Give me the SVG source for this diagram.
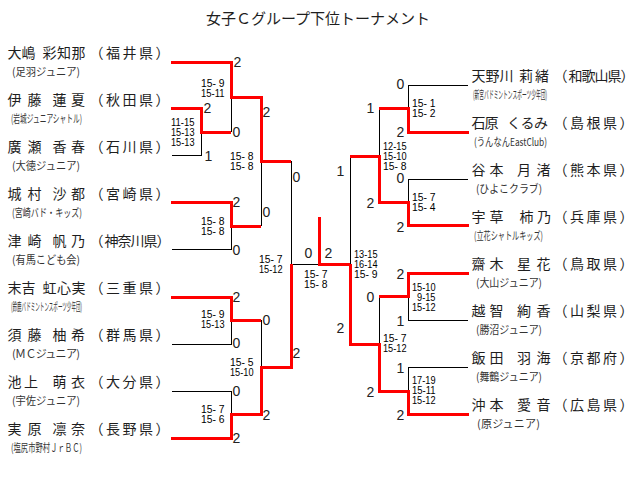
<svg xmlns="http://www.w3.org/2000/svg" width="640" height="489" viewBox="0 0 640 489">
<style>
.nm{font-family:"Noto Sans CJK JP","Noto Sans CJK SC",sans-serif;font-size:14px;fill:#1e1e1e}
.cl{font-family:"Noto Sans CJK JP","Noto Sans CJK SC",sans-serif;font-size:11px;fill:#333}
.tt{font-family:"Noto Sans CJK JP","Noto Sans CJK SC",sans-serif;font-size:15px;fill:#1e1e1e}
.sc{font-family:"Liberation Sans",Arial,sans-serif;font-size:14px;fill:#222}
.gs{font-family:"Liberation Sans",Arial,sans-serif;font-size:10px;fill:#000}
.l{stroke:#000;stroke-width:1;fill:none;shape-rendering:crispEdges}
.w{stroke:#ff0000;stroke-width:3;fill:none;shape-rendering:crispEdges}
</style>
<rect width="640" height="489" fill="#fff"/>
<text class="tt" x="206" y="24">女子Ｃグループ下位トーナメント</text>

<g id="left-players">
<g id="p-oshima"><text class="nm" x="7.5 21.5" y="58">大嶋</text><text class="nm" x="42.5 57 71.5" y="58">彩知那</text><text class="nm" x="89.5 106 122.5 139 155.5" y="58">（福井県）</text><text class="cl" x="12" y="76" textLength="68" lengthAdjust="spacingAndGlyphs">(足羽ジュニア)</text></g>
<g id="p-ito"><text class="nm" x="7.5 27.5" y="105">伊藤</text><text class="nm" x="52.5 71" y="105">蓮夏</text><text class="nm" x="89.5 106 122.5 139 155.5" y="105">（秋田県）</text><text class="cl" x="11" y="123" textLength="71" lengthAdjust="spacingAndGlyphs">(岩城ジュニアシャトル)</text></g>
<g id="p-hirose"><text class="nm" x="7.5 27.5" y="152">廣瀬</text><text class="nm" x="52.5 71" y="152">香春</text><text class="nm" x="89.5 106 122.5 139 155.5" y="152">（石川県）</text><text class="cl" x="12" y="170" textLength="68" lengthAdjust="spacingAndGlyphs">(大徳ジュニア)</text></g>
<g id="p-shiromura"><text class="nm" x="7.5 27.5" y="199">城村</text><text class="nm" x="52.5 71" y="199">沙都</text><text class="nm" x="89.5 106 122.5 139 155.5" y="199">（宮崎県）</text><text class="cl" x="12" y="217" textLength="70" lengthAdjust="spacingAndGlyphs">(宮崎バド・キッズ)</text></g>
<g id="p-tsuzaki"><text class="nm" x="7.5 27.5" y="246">津崎</text><text class="nm" x="52.5 71" y="246">帆乃</text><text class="nm" x="89.5 104.5 117.5 130.5 143.5 156.5" y="246">（神奈川県）</text><text class="cl" x="12" y="264" textLength="68" lengthAdjust="spacingAndGlyphs">(有馬こども会)</text></g>
<g id="p-sueyoshi"><text class="nm" x="7.5 21.5" y="293">末吉</text><text class="nm" x="42.5 57 71.5" y="293">虹心実</text><text class="nm" x="89.5 106 122.5 139 155.5" y="293">（三重県）</text><text class="cl" x="11" y="311" textLength="71" lengthAdjust="spacingAndGlyphs">(鈴鹿バドミントンスポーツ少年団)</text></g>
<g id="p-sudo"><text class="nm" x="7.5 27.5" y="340">須藤</text><text class="nm" x="52.5 71" y="340">柚希</text><text class="nm" x="89.5 106 122.5 139 155.5" y="340">（群馬県）</text><text class="cl" x="12" y="358" textLength="68" lengthAdjust="spacing">(ＭＣジュニア)</text></g>
<g id="p-ikegami"><text class="nm" x="7.5 24" y="387">池上</text><text class="nm" x="52.5 71" y="387">萌衣</text><text class="nm" x="89.5 106 122.5 139 155.5" y="387">（大分県）</text><text class="cl" x="12" y="405" textLength="68" lengthAdjust="spacingAndGlyphs">(宇佐ジュニア)</text></g>
<g id="p-sanehara"><text class="nm" x="7.5 27.5" y="434">実原</text><text class="nm" x="52.5 71" y="434">凛奈</text><text class="nm" x="89.5 106 122.5 139 155.5" y="434">（長野県）</text><text class="cl" x="11" y="452" textLength="71" lengthAdjust="spacingAndGlyphs">(塩尻市野村ＪｒＢＣ)</text></g>
</g>

<g id="right-players">
<g id="p-amanogawa"><text class="nm" x="471.5 485.5 499.5" y="81">天野川</text><text class="nm" x="519 535" y="81">莉緒</text><text class="nm" x="553.5 568.5 581.5 594.5 607.5 620.5" y="81">（和歌山県）</text><text class="cl" x="473" y="99" textLength="74" lengthAdjust="spacingAndGlyphs">(新宮バドミントンスポーツ少年団)</text></g>
<g id="p-ishihara"><text class="nm" x="471.5 484.5" y="128">石原</text><text class="nm" x="507 520.5 534" y="128">くるみ</text><text class="nm" x="553.5 570 586.5 603 619.5" y="128">（島根県）</text><text class="cl" x="474" y="146" textLength="73" lengthAdjust="spacingAndGlyphs">(うんなんEastClub)</text></g>
<g id="p-tanimoto"><text class="nm" x="471.5 489.5" y="175">谷本</text><text class="nm" x="517 536.5" y="175">月渚</text><text class="nm" x="553.5 570 586.5 603 619.5" y="175">（熊本県）</text><text class="cl" x="476" y="193" textLength="66" lengthAdjust="spacingAndGlyphs">(ひよこクラブ)</text></g>
<g id="p-ukusa"><text class="nm" x="471.5 489.5" y="222">宇草</text><text class="nm" x="519.5 537" y="222">柿乃</text><text class="nm" x="553.5 570 586.5 603 619.5" y="222">（兵庫県）</text><text class="cl" x="474" y="240" textLength="69" lengthAdjust="spacingAndGlyphs">(立花シャトルキッズ)</text></g>
<g id="p-saiki"><text class="nm" x="471.5 489.5" y="269">齋木</text><text class="nm" x="517 536.5" y="269">星花</text><text class="nm" x="553.5 570 586.5 603 619.5" y="269">（鳥取県）</text><text class="cl" x="476" y="287" textLength="66" lengthAdjust="spacingAndGlyphs">(大山ジュニア)</text></g>
<g id="p-ochi"><text class="nm" x="471.5 489.5" y="316">越智</text><text class="nm" x="517 536.5" y="316">絢香</text><text class="nm" x="553.5 570 586.5 603 619.5" y="316">（山梨県）</text><text class="cl" x="476" y="334" textLength="66" lengthAdjust="spacingAndGlyphs">(勝沼ジュニア)</text></g>
<g id="p-iida"><text class="nm" x="471.5 489.5" y="363">飯田</text><text class="nm" x="517 536.5" y="363">羽海</text><text class="nm" x="553.5 570 586.5 603 619.5" y="363">（京都府）</text><text class="cl" x="476" y="381" textLength="66" lengthAdjust="spacingAndGlyphs">(舞鶴ジュニア)</text></g>
<g id="p-okimoto"><text class="nm" x="471.5 489.5" y="410">沖本</text><text class="nm" x="517 536.5" y="410">愛音</text><text class="nm" x="553.5 570 586.5 603 619.5" y="410">（広島県）</text><text class="cl" x="477" y="428" textLength="63" lengthAdjust="spacing">(原ジュニア)</text></g>
</g>

<g id="connectors">
<path class="l" d="M172,155 H201 V132 M231,97 V132 M172,249 H231 V226 M261,161 V226 M291,161 V264 M172,344 H231 V320 M261,320 V367 M172,391 H231 V414 M291,264 H319"/>
<path class="l" d="M468,85 H408 V108 M379,108 V156 M468,179 H408 V202 M350,156 V264 M468,320 H408 V296 M379,296 V344 M468,367 H408 V391"/>
<path class="w" d="M171,62 H231 V97 H261 V161 H291"/>
<path class="w" d="M171,108 H201 V132 H231"/>
<path class="w" d="M171,202 H231 V226 H261"/>
<path class="w" d="M171,297 H231 V320 H261"/>
<path class="w" d="M171,438 H231 V414 H261 V367 H291 V264"/>
<path class="w" d="M319,217 V264 H350"/>
<path class="w" d="M469,132 H408 V108 H379"/>
<path class="w" d="M469,225 H408 V202 H379 V156 H350"/>
<path class="w" d="M469,273 H408 V296 H379"/>
<path class="w" d="M469,414 H408 V391 H379 V344 H350 V264"/>
</g>

<g id="match-scores">
<text class="sc" x="233.5" y="67">2</text>
<text class="sc" x="203.5" y="113">2</text>
<text class="sc" x="204.5" y="161">1</text>
<text class="sc" x="232.5" y="137">0</text>
<text class="sc" x="262.5" y="117">2</text>
<text class="sc" x="292.5" y="182">0</text>
<text class="sc" x="232.5" y="207">2</text>
<text class="sc" x="232.5" y="255">0</text>
<text class="sc" x="262.5" y="217">0</text>
<text class="sc" x="304.5" y="258">0</text>
<text class="sc" x="324.5" y="258">2</text>
<text class="sc" x="232.5" y="302">2</text>
<text class="sc" x="232.5" y="348">0</text>
<text class="sc" x="262.5" y="325">0</text>
<text class="sc" x="292.5" y="358">2</text>
<text class="sc" x="232.5" y="396">0</text>
<text class="sc" x="232.5" y="443">2</text>
<text class="sc" x="262.5" y="420">2</text>
<text class="sc" x="396.5" y="89">0</text>
<text class="sc" x="396.5" y="137">2</text>
<text class="sc" x="366.5" y="113">1</text>
<text class="sc" x="396.5" y="183">0</text>
<text class="sc" x="396.5" y="232">2</text>
<text class="sc" x="366.5" y="208">2</text>
<text class="sc" x="336.5" y="176">1</text>
<text class="sc" x="396.5" y="279">2</text>
<text class="sc" x="396.5" y="326">1</text>
<text class="sc" x="366.5" y="302">0</text>
<text class="sc" x="336.5" y="333">2</text>
<text class="sc" x="396.5" y="373">1</text>
<text class="sc" x="396.5" y="420">2</text>
<text class="sc" x="366.5" y="397">2</text>
</g>

<g id="game-scores">
<text class="gs" x="171" y="126" textLength="23.5" lengthAdjust="spacingAndGlyphs">11-15</text>
<text class="gs" x="171" y="136" textLength="23.5" lengthAdjust="spacingAndGlyphs">15-13</text>
<text class="gs" x="171" y="146" textLength="23.5" lengthAdjust="spacingAndGlyphs">15-13</text>
<text class="gs" x="201" y="87" textLength="23.5" lengthAdjust="spacingAndGlyphs">15- 9</text>
<text class="gs" x="201" y="97" textLength="23.5" lengthAdjust="spacingAndGlyphs">15-11</text>
<text class="gs" x="230" y="160" textLength="23.5" lengthAdjust="spacingAndGlyphs">15- 8</text>
<text class="gs" x="230" y="170" textLength="23.5" lengthAdjust="spacingAndGlyphs">15- 8</text>
<text class="gs" x="201" y="225" textLength="23.5" lengthAdjust="spacingAndGlyphs">15- 8</text>
<text class="gs" x="201" y="235" textLength="23.5" lengthAdjust="spacingAndGlyphs">15- 8</text>
<text class="gs" x="259" y="263" textLength="23.5" lengthAdjust="spacingAndGlyphs">15- 7</text>
<text class="gs" x="259" y="273" textLength="23.5" lengthAdjust="spacingAndGlyphs">15-12</text>
<text class="gs" x="201" y="318" textLength="23.5" lengthAdjust="spacingAndGlyphs">15- 9</text>
<text class="gs" x="201" y="328" textLength="23.5" lengthAdjust="spacingAndGlyphs">15-13</text>
<text class="gs" x="230" y="366" textLength="23.5" lengthAdjust="spacingAndGlyphs">15- 5</text>
<text class="gs" x="230" y="376" textLength="23.5" lengthAdjust="spacingAndGlyphs">15-10</text>
<text class="gs" x="201" y="413" textLength="23.5" lengthAdjust="spacingAndGlyphs">15- 7</text>
<text class="gs" x="201" y="423" textLength="23.5" lengthAdjust="spacingAndGlyphs">15- 6</text>
<text class="gs" x="304" y="278" textLength="23.5" lengthAdjust="spacingAndGlyphs">15- 7</text>
<text class="gs" x="304" y="288" textLength="23.5" lengthAdjust="spacingAndGlyphs">15- 8</text>
<text class="gs" x="412" y="107" textLength="23.5" lengthAdjust="spacingAndGlyphs">15- 1</text>
<text class="gs" x="412" y="117" textLength="23.5" lengthAdjust="spacingAndGlyphs">15- 2</text>
<text class="gs" x="383" y="150" textLength="23.5" lengthAdjust="spacingAndGlyphs">12-15</text>
<text class="gs" x="383" y="160" textLength="23.5" lengthAdjust="spacingAndGlyphs">15-10</text>
<text class="gs" x="383" y="170" textLength="23.5" lengthAdjust="spacingAndGlyphs">15- 8</text>
<text class="gs" x="412" y="201" textLength="23.5" lengthAdjust="spacingAndGlyphs">15- 7</text>
<text class="gs" x="412" y="211" textLength="23.5" lengthAdjust="spacingAndGlyphs">15- 4</text>
<text class="gs" x="354" y="258" textLength="23.5" lengthAdjust="spacingAndGlyphs">13-15</text>
<text class="gs" x="354" y="268" textLength="23.5" lengthAdjust="spacingAndGlyphs">16-14</text>
<text class="gs" x="354" y="278" textLength="23.5" lengthAdjust="spacingAndGlyphs">15- 9</text>
<text class="gs" x="412" y="291" textLength="23.5" lengthAdjust="spacingAndGlyphs">15-10</text>
<text class="gs" x="417" y="301" textLength="18.5" lengthAdjust="spacingAndGlyphs">9-15</text>
<text class="gs" x="412" y="311" textLength="23.5" lengthAdjust="spacingAndGlyphs">15-12</text>
<text class="gs" x="383" y="342" textLength="23.5" lengthAdjust="spacingAndGlyphs">15- 7</text>
<text class="gs" x="383" y="352" textLength="23.5" lengthAdjust="spacingAndGlyphs">15-12</text>
<text class="gs" x="412" y="384" textLength="23.5" lengthAdjust="spacingAndGlyphs">17-19</text>
<text class="gs" x="412" y="394" textLength="23.5" lengthAdjust="spacingAndGlyphs">15-11</text>
<text class="gs" x="412" y="404" textLength="23.5" lengthAdjust="spacingAndGlyphs">15-12</text>
</g>
</svg>
